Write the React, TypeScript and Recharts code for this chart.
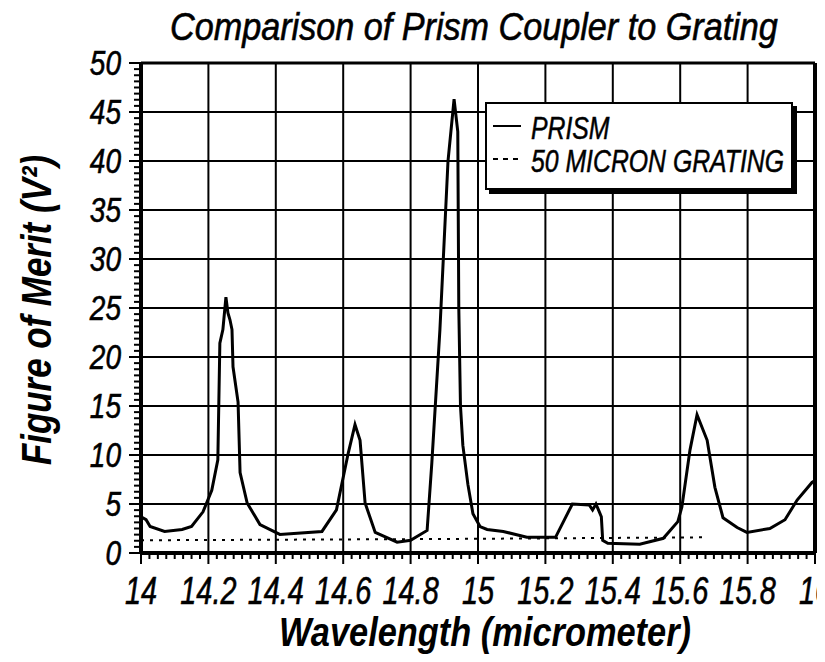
import React from 'react';
import { LineChart, Line, XAxis, YAxis, ReferenceLine, Legend, Label } from 'recharts';

// wavelength (micrometer) / figure of merit (V^2)
const prismX = [
  14.0, 14.015, 14.027, 14.07, 14.122, 14.15, 14.184, 14.21, 14.228, 14.234, 14.243, 14.252, 14.258, 14.264,
  14.27, 14.273, 14.288, 14.294, 14.315, 14.353, 14.412, 14.537, 14.58, 14.615, 14.635, 14.65, 14.665, 14.695,
  14.76, 14.8, 14.849, 14.863, 14.887, 14.911, 14.929, 14.94, 14.943, 14.948, 14.955, 14.97, 14.985, 15.006,
  15.027, 15.075, 15.145, 15.23, 15.28, 15.33, 15.34, 15.35, 15.36, 15.366, 15.37, 15.385, 15.48, 15.55,
  15.593, 15.605, 15.629, 15.65, 15.68, 15.703, 15.727, 15.769, 15.798, 15.866, 15.911, 15.947, 15.991, 16.0,
];
const prismY = [
  3.7, 3.4, 2.7, 2.2, 2.4, 2.7, 4.2, 6.4, 9.5, 21.4, 22.8, 26.1, 24.5, 23.8,
  22.8, 19, 15.4, 8.2, 5.1, 2.9, 1.9, 2.2, 4.4, 10.2, 13.1, 11.5, 5.1, 2.1,
  1.1, 1.3, 2.3, 9.2, 22.8, 40, 46.3, 43, 25, 15, 11, 7, 4, 2.7,
  2.4, 2.2, 1.6, 1.6, 5.0, 4.9, 4.4, 5.0, 4.2, 3.7, 1.3, 1.0, 0.9, 1.5,
  3.2, 4.7, 10.5, 14.1, 11.5, 6.7, 3.6, 2.6, 2.1, 2.5, 3.4, 5.4, 7.2, 7.4,
];
const gratingX = [14.0, 14.5, 15.0, 15.68];
const gratingY = [1.3, 1.37, 1.45, 1.6];

const xMajor = [14, 14.2, 14.4, 14.6, 14.8, 15, 15.2, 15.4, 15.6, 15.8, 16];
const yMajor = [0, 5, 10, 15, 20, 25, 30, 35, 40, 45, 50];
const xTicks: number[] = [];
for (let i = 0; i <= 80; i++) xTicks.push(14 + i * 0.025);
const yTicks: number[] = [];
for (let i = 0; i <= 80; i++) yTicks.push(i * 0.625);

const prismData = prismX.map((x, i) => ({ x, y: prismY[i] }));
const gratingData = gratingX.map((x, i) => ({ x, y: gratingY[i] }));

const FONT = "'Liberation Sans', Arial, sans-serif";

const XTick = (props: any) => {
  const { x, y, payload } = props;
  const v = payload.value;
  const major = Math.abs(v * 5 - Math.round(v * 5)) < 1e-6;
  return (
    <g>
      <line x1={x} x2={x} y1={y} y2={y + (major ? 11 : 6)} stroke="#000" strokeWidth={2} />
      {major && (
        <text
          transform={`translate(${x},${y + 51}) scale(0.76,1)`} textAnchor="middle"
          fontFamily={FONT} fontStyle="italic" fontSize={38} fill="#000" stroke="#000" strokeWidth={0.6}
        >
          {String(Math.round(v * 10) / 10)}
        </text>
      )}
    </g>
  );
};

const YTick = (props: any) => {
  const { x, y, payload } = props;
  const v = payload.value;
  const major = Math.abs(v / 5 - Math.round(v / 5)) < 1e-6;
  return (
    <g>
      <line x1={x} x2={x - (major ? 12 : 7)} y1={y} y2={y} stroke="#000" strokeWidth={2} />
      {major && (
        <text
          transform={`translate(${x - 20},${y + 12}) scale(0.8,1)`} textAnchor="end"
          fontFamily={FONT} fontStyle="italic" fontSize={35} fill="#000" stroke="#000" strokeWidth={0.6}
        >
          {Math.round(v)}
        </text>
      )}
    </g>
  );
};

const XTitle = (props: any) => {
  const vb = props.viewBox || { x: 133, y: 545, width: 674, height: 109 };
  return (
    <text
      x={vb.x + vb.width / 2 + 7} y={vb.y + vb.height - 16} textAnchor="middle"
      textLength={412} lengthAdjust="spacingAndGlyphs"
      fontFamily={FONT} fontStyle="italic" fontWeight="bold" fontSize={40} fill="#000"
    >
      Wavelength (micrometer)
    </text>
  );
};

const YTitle = (props: any) => {
  const vb = props.viewBox || { x: 0, y: 55, width: 133, height: 490 };
  const cy = vb.y + vb.height / 2 + 2;
  return (
    <text
      transform={`translate(43,${cy}) rotate(-90)`} textAnchor="middle"
      textLength={310} lengthAdjust="spacingAndGlyphs"
      fontFamily={FONT} fontStyle="italic" fontWeight="bold" fontSize={42} fill="#000"
    >
      Figure of Merit (V²)
    </text>
  );
};

const LegendBox = () => (
  <div style={{ border: '2px solid #000', boxShadow: '4px 4px 0 #000', background: '#fff', width: 304, height: 84 }}>
    <svg width={304} height={84} style={{ display: 'block', overflow: 'visible' }}>
      <line x1={6} x2={34} y1={22} y2={22} stroke="#000" strokeWidth={2} />
      <text transform="translate(44,35) scale(0.8,1)"
        fontFamily={FONT} fontStyle="italic" fontSize={31} fill="#000" stroke="#000" strokeWidth={0.5}>PRISM</text>
      <line x1={6} x2={34} y1={55} y2={55} stroke="#000" strokeWidth={2} strokeDasharray="5 5" />
      <text transform="translate(44,68) scale(0.8,1)"
        fontFamily={FONT} fontStyle="italic" fontSize={31} fill="#000" stroke="#000" strokeWidth={0.5}>50 MICRON GRATING</text>
    </svg>
  </div>
);

export default function App() {
  return (
    <div style={{ position: 'relative', width: 817, height: 654, background: '#fff' }}>
      <svg width={817} height={60} style={{ position: 'absolute', left: 0, top: -8, overflow: 'visible' }}>
        <text
          transform="translate(162,40) scale(0.9,1)"
          fontFamily={FONT} fontStyle="italic" fontSize={38} fill="#000" stroke="#000" strokeWidth={0.6}
        >
          Comparison of Prism Coupler to Grating
        </text>
      </svg>
      <LineChart width={817} height={654} margin={{ top: 55, right: 10, bottom: 0, left: 0 }}>
        <XAxis
          dataKey="x" type="number" domain={[14, 16]} ticks={xTicks} interval={0}
          tick={<XTick />} tickLine={false} axisLine={false} tickSize={0} tickMargin={0} height={109}
          allowDataOverflow
        >
          <Label content={<XTitle />} />
        </XAxis>
        <YAxis
          dataKey="y" type="number" domain={[0, 50]} ticks={yTicks} interval={0}
          tick={<YTick />} tickLine={false} axisLine={false} tickSize={0} tickMargin={0} width={133}
          allowDataOverflow
        >
          <Label content={<YTitle />} />
        </YAxis>
        {xMajor.slice(1, -1).map((v) => (
          <ReferenceLine key={'vx' + v} x={v} stroke="#000" strokeWidth={2} />
        ))}
        {yMajor.slice(1, -1).map((v) => (
          <ReferenceLine key={'hy' + v} y={v} stroke="#000" strokeWidth={2} />
        ))}
        <ReferenceLine x={14} stroke="#000" strokeWidth={4} />
        <ReferenceLine x={16} stroke="#000" strokeWidth={4} />
        <ReferenceLine y={0} stroke="#000" strokeWidth={4} />
        <ReferenceLine y={50} stroke="#000" strokeWidth={3} />
        <Line
          data={gratingData} dataKey="y" name="50 MICRON GRATING" stroke="#000" strokeWidth={2}
          strokeDasharray="3 6" dot={false} activeDot={false} isAnimationActive={false} type="linear"
        />
        <Line
          data={prismData} dataKey="y" name="PRISM" stroke="#000" strokeWidth={3}
          dot={false} activeDot={false} isAnimationActive={false} type="linear"
        />
        <Legend
          layout="horizontal" verticalAlign="middle" align="center" content={<LegendBox />}
          wrapperStyle={{ left: 477, top: 94, width: 310 }}
        />
      </LineChart>
    </div>
  );
}
